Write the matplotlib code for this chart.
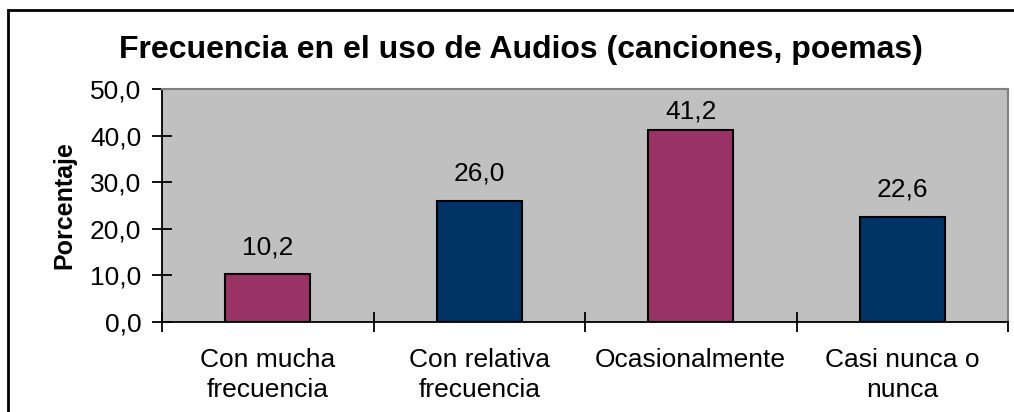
import matplotlib
matplotlib.use("Agg")
import matplotlib.pyplot as plt
from matplotlib.patches import Rectangle

# -----------------------------
# DATA
# -----------------------------
categories = ["Con mucha\nfrecuencia", "Con relativa\nfrecuencia", "Ocasionalmente", "Casi nunca o\nnunca"]
values = [10.2, 26.0, 41.2, 22.6]
bar_colors = ["#993366", "#003366", "#993366", "#003366"]
y_ticks = [0, 10, 20, 30, 40, 50]

TITLE = "Frecuencia en el uso de Audios (canciones, poemas)"
Y_LABEL = "Porcentaje"

plt.rcParams["font.family"] = ["Liberation Sans", "DejaVu Sans"]

# -----------------------------
# PLOT
# -----------------------------
fig = plt.figure(figsize=(10.14, 4.12), dpi=100)
ax_h_px = 233
ax = fig.add_axes([162 / 1014, 90 / 412, 846 / 1014, ax_h_px / 412])
ax.set_facecolor("#C0C0C0")

x = list(range(len(categories)))
bars = ax.bar(x, values, width=0.4, color=bar_colors, edgecolor="black", linewidth=1.5, zorder=3)

ymax = y_ticks[-1]
px_per_unit = ax_h_px / ymax
for rect, v in zip(bars, values):
    # keep the label inside the plot area, like Excel does
    room_px = (ymax - v) * px_per_unit
    off_px = min(15, room_px - 34)
    ax.annotate(f"{v:.1f}".replace(".", ","), (rect.get_x() + rect.get_width() / 2, v),
                xytext=(0, off_px * 0.72), textcoords="offset points", ha="center", va="bottom",
                fontsize=19)

ax.set_xlim(-0.5, len(categories) - 0.5)
ax.set_ylim(0, ymax)
ax.set_yticks(y_ticks)
ax.set_yticklabels([f"{t:.1f}".replace(".", ",") for t in y_ticks], fontsize=19)

# category ticks between bars, labels centred on bars
ax.set_xticks([i - 0.5 for i in range(len(categories) + 1)])
ax.set_xticklabels([])
ax.set_xticks(x, minor=True)
ax.set_xticklabels(categories, minor=True, fontsize=19, linespacing=1.3)
ax.tick_params(axis="x", which="major", direction="inout", length=15, width=1.3)
ax.tick_params(axis="x", which="minor", length=0, pad=19)
ax.tick_params(axis="y", direction="inout", length=14, width=1.3, pad=8)

for s in ["left", "bottom"]:
    ax.spines[s].set_color("black")
    ax.spines[s].set_linewidth(1.3)
for s in ["top", "right"]:
    ax.spines[s].set_color("#808080")
    ax.spines[s].set_linewidth(1.5)

ax.set_ylabel(Y_LABEL, fontsize=18, fontweight="bold", labelpad=10)
fig.text(0.514, 1 - 50 / 412, TITLE, ha="center", va="center", fontsize=23, fontweight="bold")

# outer chart border (runs off the right and bottom edges)
fig.patches.append(Rectangle((8, -20), 1100, 412 - 10 + 20, transform=None,
                             fill=False, edgecolor="black", linewidth=2))

# -----------------------------
# SAVE
# -----------------------------
fig.savefig("out.png", dpi=100)
plt.close(fig)
